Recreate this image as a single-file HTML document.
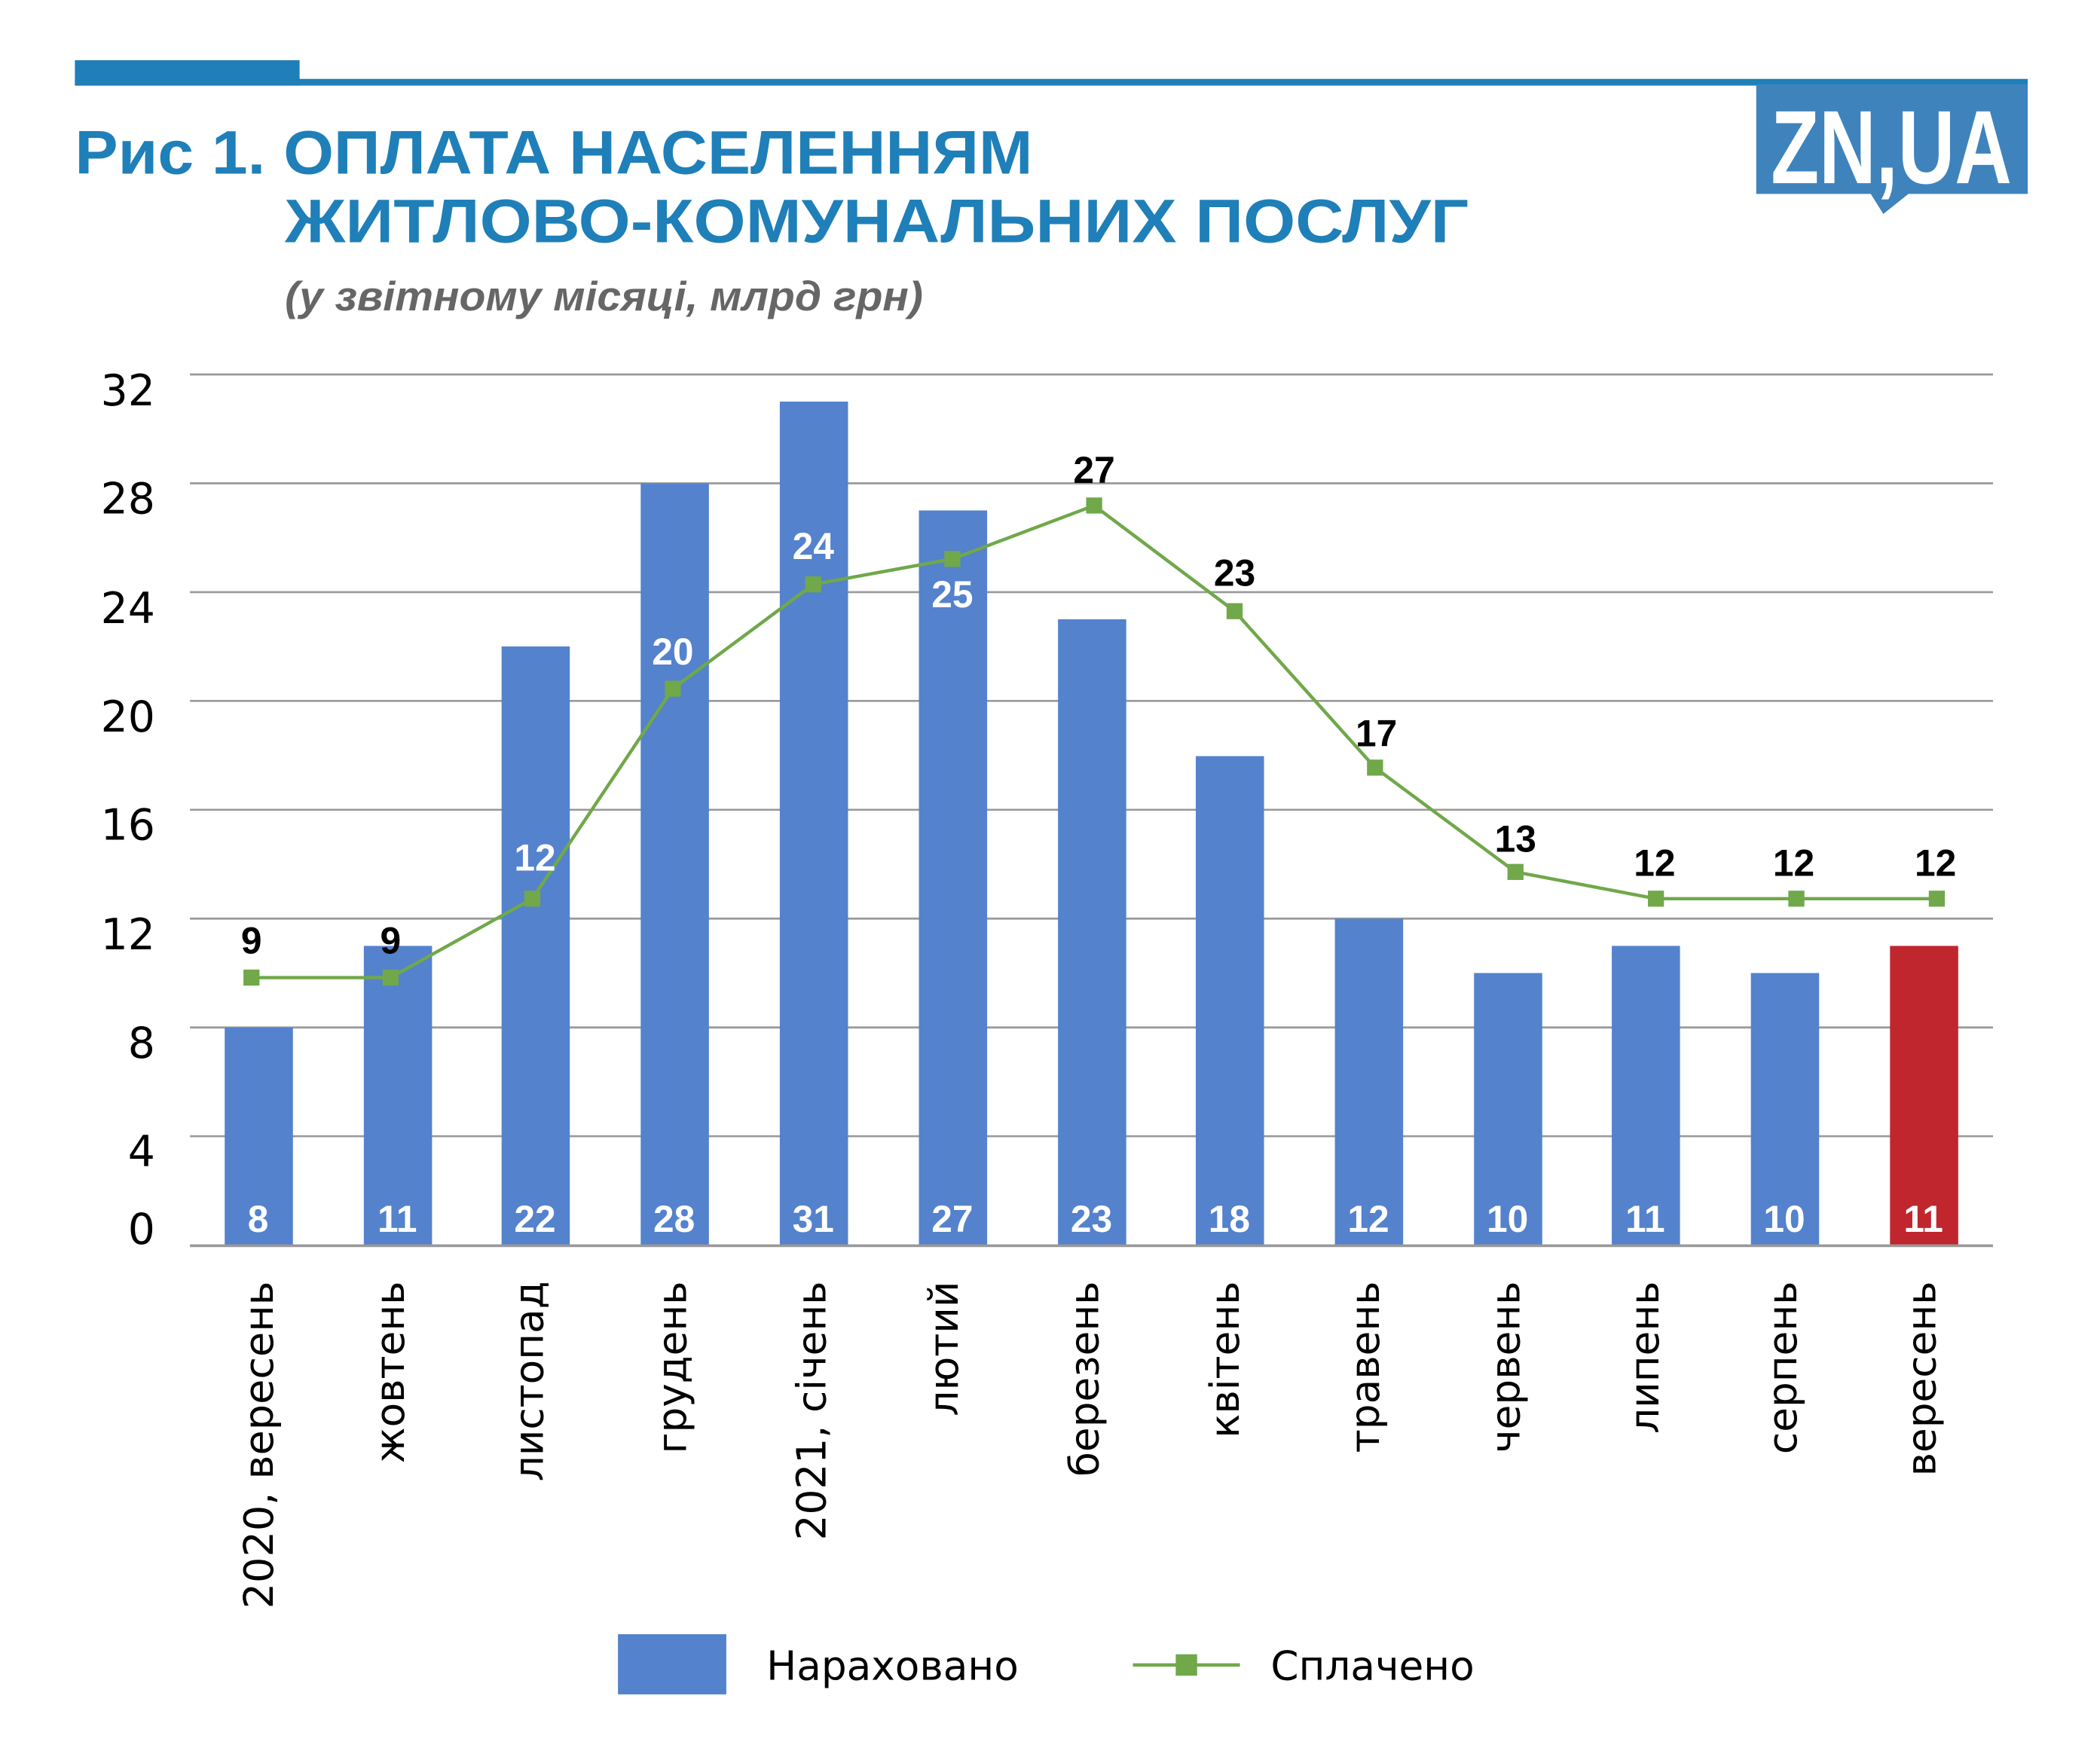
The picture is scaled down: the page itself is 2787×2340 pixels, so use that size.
<!DOCTYPE html>
<html><head><meta charset="utf-8"><style>html,body{margin:0;padding:0;background:#fff}svg{display:block}</style></head><body>
<svg width="2787" height="2340" viewBox="0 0 1570 1318.3" preserveAspectRatio="none" xmlns="http://www.w3.org/2000/svg" font-family="'Liberation Sans','DejaVu Sans',sans-serif">
<rect x="0" y="0" width="1570" height="1319" fill="#fff"/>
<rect x="56" y="45" width="168" height="19" fill="#1f7fb8"/>
<rect x="56" y="59" width="1460" height="5" fill="#1f7fb8"/>
<rect x="1313" y="63" width="203" height="82" fill="#3f83bd"/>
<polygon points="1398,144 1428,144 1408,160" fill="#3f83bd"/>
<text x="1414" y="137" text-anchor="middle" font-size="78" font-weight="bold" fill="#fff" textLength="180" lengthAdjust="spacingAndGlyphs">ZN,UA</text>
<text x="56" y="130" font-size="46" font-weight="bold" fill="#1f7fb8" textLength="716" lengthAdjust="spacingAndGlyphs">Рис 1. ОПЛАТА НАСЕЛЕННЯМ</text>
<text x="213" y="181" font-size="46" font-weight="bold" fill="#1f7fb8" textLength="885" lengthAdjust="spacingAndGlyphs">ЖИТЛОВО-КОМУНАЛЬНИХ ПОСЛУГ</text>
<text x="213" y="232" font-size="31" font-weight="bold" font-style="italic" fill="#666" textLength="477" lengthAdjust="spacingAndGlyphs">(у звітному місяці, млрд грн)</text>
<g stroke="#999" stroke-width="1.5">
<line x1="142" y1="280" x2="1490" y2="280"/><line x1="142" y1="361.4" x2="1490" y2="361.4"/><line x1="142" y1="442.8" x2="1490" y2="442.8"/><line x1="142" y1="524.1" x2="1490" y2="524.1"/><line x1="142" y1="605.5" x2="1490" y2="605.5"/><line x1="142" y1="686.9" x2="1490" y2="686.9"/><line x1="142" y1="768.3" x2="1490" y2="768.3"/><line x1="142" y1="849.6" x2="1490" y2="849.6"/>
</g>
<g font-size="32" fill="#000" text-anchor="end" font-family="'DejaVu Sans',sans-serif">
<text x="116" y="303">32</text><text x="116" y="384">28</text><text x="116" y="466">24</text><text x="116" y="547">20</text><text x="116" y="628">16</text><text x="116" y="710">12</text><text x="116" y="791">8</text><text x="116" y="872">4</text><text x="116" y="930">0</text>
</g>
<g fill="#5482cc">
<rect x="168" y="768.3" width="51" height="162.7"/>
<rect x="272" y="707.3" width="51" height="223.7"/>
<rect x="375" y="483.4" width="51" height="447.6"/>
<rect x="479" y="361.4" width="51" height="569.6"/>
<rect x="583" y="300.3" width="51" height="630.7"/>
<rect x="687" y="381.7" width="51" height="549.3"/>
<rect x="791" y="463.1" width="51" height="467.9"/>
<rect x="894" y="565.4" width="51" height="365.6"/>
<rect x="998" y="686.9" width="51" height="244.1"/>
<rect x="1102" y="727.6" width="51" height="203.4"/>
<rect x="1205" y="707.3" width="51" height="223.7"/>
<rect x="1309" y="727.6" width="51" height="203.4"/>
</g>
<rect x="1413" y="707.3" width="51" height="223.7" fill="#c0262e"/>
<line x1="142" y1="931.5" x2="1490" y2="931.5" stroke="#999" stroke-width="2"/>
<g font-size="28" font-weight="bold" fill="#fff" text-anchor="middle">
<text x="193" y="921">8</text><text x="297" y="921">11</text><text x="400" y="921">22</text><text x="504" y="921">28</text><text x="608" y="921">31</text><text x="712" y="921">27</text><text x="816" y="921">23</text><text x="919" y="921">18</text><text x="1023" y="921">12</text><text x="1127" y="921">10</text><text x="1230" y="921">11</text><text x="1334" y="921">10</text><text x="1438" y="921">11</text>
</g>
<polyline points="188,731 292,731 398,672 503,515 608,437 712,418 818,378 923,457 1028,574 1133,652 1238,672 1343,672 1448,672" fill="none" stroke="#70a84a" stroke-width="2.5"/>
<g fill="#70a84a">
<rect x="182" y="725" width="12" height="12"/><rect x="286" y="725" width="12" height="12"/><rect x="392" y="666" width="12" height="12"/><rect x="497" y="509" width="12" height="12"/><rect x="602" y="431" width="12" height="12"/><rect x="706" y="412" width="12" height="12"/><rect x="812" y="372" width="12" height="12"/><rect x="917" y="451" width="12" height="12"/><rect x="1022" y="568" width="12" height="12"/><rect x="1127" y="646" width="12" height="12"/><rect x="1232" y="666" width="12" height="12"/><rect x="1337" y="666" width="12" height="12"/><rect x="1442" y="666" width="12" height="12"/>
</g>
<g font-size="28" font-weight="bold" text-anchor="middle">
<text x="188" y="713" fill="#000">9</text><text x="292" y="713" fill="#000">9</text>
<text x="400" y="651" fill="#fff">12</text><text x="503" y="497" fill="#fff">20</text><text x="608" y="418" fill="#fff">24</text><text x="712" y="454" fill="#fff">25</text>
<text x="818" y="361" fill="#000">27</text><text x="923" y="438" fill="#000">23</text><text x="1029" y="558" fill="#000">17</text><text x="1133" y="637" fill="#000">13</text><text x="1237" y="655" fill="#000">12</text><text x="1341" y="655" fill="#000">12</text><text x="1447" y="655" fill="#000">12</text>
</g>
<g font-size="30" fill="#000" text-anchor="end" font-family="'DejaVu Sans',sans-serif">
<text transform="translate(204,958) rotate(-90)" textLength="245" lengthAdjust="spacingAndGlyphs">2020, вересень</text>
<text transform="translate(302,958) rotate(-90)">жовтень</text>
<text transform="translate(406,958) rotate(-90)">листопад</text>
<text transform="translate(513,958) rotate(-90)">грудень</text>
<text transform="translate(617,958) rotate(-90)">2021, січень</text>
<text transform="translate(716,958) rotate(-90)">лютий</text>
<text transform="translate(821,958) rotate(-90)">березень</text>
<text transform="translate(926,958) rotate(-90)">квітень</text>
<text transform="translate(1031,958) rotate(-90)">травень</text>
<text transform="translate(1136,958) rotate(-90)">червень</text>
<text transform="translate(1240,958) rotate(-90)">липень</text>
<text transform="translate(1343,958) rotate(-90)">серпень</text>
<text transform="translate(1447,958) rotate(-90)">вересень</text>
</g>
<rect x="462" y="1222" width="81" height="45" fill="#5482cc"/>
<text x="573" y="1256" font-size="30" fill="#000" font-family="'DejaVu Sans',sans-serif">Нараховано</text>
<line x1="847" y1="1245" x2="927" y2="1245" stroke="#70a84a" stroke-width="2.5"/>
<rect x="879" y="1237" width="16" height="16" fill="#70a84a"/>
<text x="950" y="1256" font-size="30" fill="#000" font-family="'DejaVu Sans',sans-serif">Сплачено</text>
</svg>
</body></html>
